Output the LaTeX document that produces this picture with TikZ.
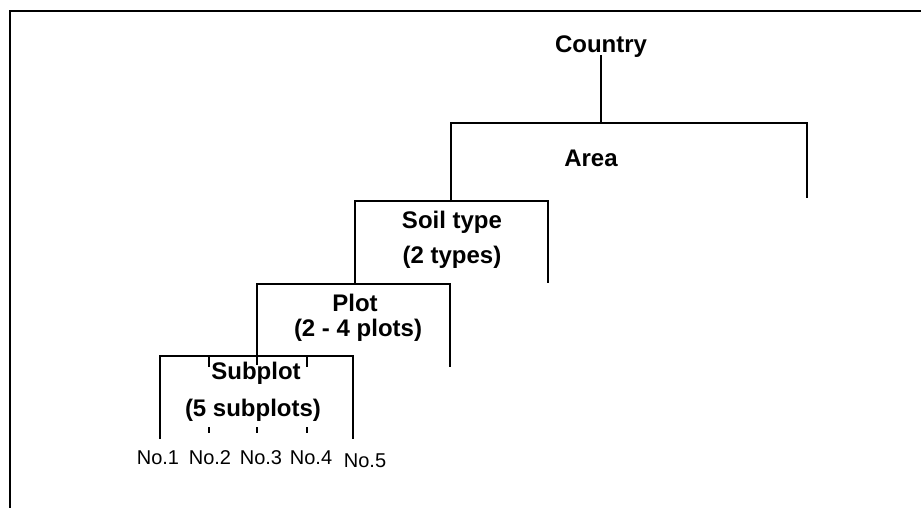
\documentclass[tikz,border=0pt]{standalone}
\usepackage{fontspec}
\setmainfont{Liberation Sans}

\begin{document}
\begin{tikzpicture}[x=0.5pt, y=-0.5pt, line width=0.6pt,
  level/.style={font=\fontsize{12}{14}\selectfont\bfseries, inner sep=0pt},
  leaf/.style={font=\fontsize{10}{12}\selectfont, inner sep=0pt}]
  \useasboundingbox (0,0) rectangle (921,508);
  \draw[line width=1pt] (10,508) -- (10,11) -- (921,11);
  % levels
  \node[level] (country) at (601,47) {Country};
  \node[level] (area) at (591,158) {Area};
  \node[level] (soil) at (452,222) {Soil type};
  \node[level] (soil-n) at (452,257) {(2 types)};
  \node[level] (plot) at (355,303) {Plot};
  \node[level] (plot-n) at (358,330) {(2 - 4 plots)};
  \node[level] (sub) at (256,373) {Subplot};
  \node[level] (sub-n) at (253,410) {(5 subplots)};
  % brackets
  \coordinate (area-top) at (601,123);
  \draw (601,55) -- (area-top);
  \draw (451,202) -- (451,123) -- (807,123) -- (807,198);
  \draw (355,283) -- (355,201) -- (548,201) -- (548,283);
  \draw (257,365) -- (257,284) -- (450,284) -- (450,367);
  \draw (160,439) -- (160,356) -- (353,356) -- (353,439);
  \draw (209,356) -- (209,367) (307,356) -- (307,367);
  \foreach \x in {209,257,307}
    \draw (\x,427) -- (\x,433);
  % subplots
  \node[leaf] (no1) at (158,458) {No.1};
  \node[leaf] (no2) at (210,458) {No.2};
  \node[leaf] (no3) at (261,458) {No.3};
  \node[leaf] (no4) at (311,458) {No.4};
  \node[leaf] (no5) at (365,461) {No.5};
\end{tikzpicture}
\end{document}
